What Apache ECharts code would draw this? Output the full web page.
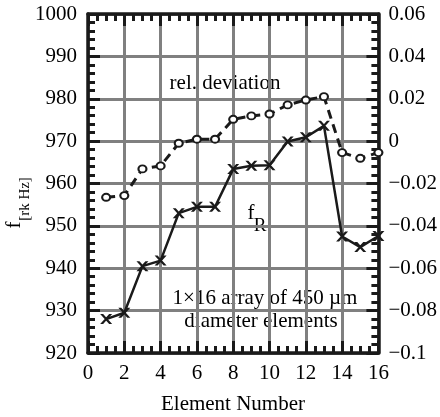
<!DOCTYPE html>
<html lang="en">
  <head>
    <meta charset="UTF-8" />
    <title>f_R and relative deviation</title>
    <script src="https://cdn.jsdelivr.net/npm/echarts/dist/echarts.min.js"></script>
  </head>
  <body style="margin: 0; background: #fff">
    <div id="container" style="width: 440px; height: 417px"></div>
    <script>
      // element number (x)
      const elements = [1, 2, 3, 4, 5, 6, 7, 8, 9, 10, 11, 12, 13, 14, 15, 16];
      // resonance frequency f_R, left axis
      const fR = [928, 929.5, 940.5, 941.8, 953, 954.5, 954.5, 963.4, 964.2, 964.3, 969.9, 970.9, 973.6, 947.5, 945, 947.6];
      // relative deviation, right axis
      const relDev = [-0.0265, -0.0257, -0.0131, -0.0117, -0.001, 0.0009, 0.0009, 0.0103, 0.0119, 0.0128, 0.0171, 0.0194, 0.021, -0.0054, -0.0081, -0.0054];

      const FONT = "Liberation Serif";
      const ink = "#1a1a1a";
      const gridGray = "#808080";

      const chart = echarts.init(document.getElementById("container"));

      const labelStyle = { fontFamily: FONT, fontSize: 21, color: "#000" };
      const axLine = { show: true, onZero: false, lineStyle: { color: ink, width: 3.5 } };
      const tick = { show: true, inside: true, length: 12, lineStyle: { color: ink, width: 3 } };
      const minor = (n) => ({ show: true, splitNumber: n, length: 7, lineStyle: { color: ink, width: 3 } });

      const crossPath = "path://M0,0L3,0L12,10L9,10Z M9,0L12,0L3,10L0,10Z";

      const option = {
        animation: false,
        backgroundColor: "#fff",
        grid: { left: 88, right: 58, top: 14, bottom: 64 },
        xAxis: [
          {
            type: "value", min: 0, max: 16, interval: 2,
            axisLine: axLine, axisTick: tick, minorTick: minor(4),
            axisLabel: Object.assign({ margin: 10 }, labelStyle),
            splitLine: { show: true, lineStyle: { color: gridGray, width: 3 } }
          },
          {
            type: "value", position: "top", min: 0, max: 16, interval: 2,
            axisLine: axLine, axisTick: tick, minorTick: minor(4),
            axisLabel: { show: false }, splitLine: { show: false }
          }
        ],
        yAxis: [
          {
            type: "value", min: 920, max: 1000, interval: 10,
            axisLine: axLine, axisTick: tick, minorTick: minor(5),
            axisLabel: Object.assign({ margin: 11, formatter: (v) => String(v) }, labelStyle),
            splitLine: { show: true, lineStyle: { color: gridGray, width: 3 } }
          },
          {
            type: "value", position: "right", min: -0.1, max: 0.06, interval: 0.02,
            axisLine: axLine, axisTick: tick, minorTick: minor(5),
            axisLabel: Object.assign({
              margin: 10,
              formatter: (v) => String(Math.round(v * 100) / 100).replace("-", "\u2212")
            }, labelStyle),
            splitLine: { show: false }
          }
        ],
        series: [
          {
            name: "f_R", type: "line", xAxisIndex: 0, yAxisIndex: 0,
            data: elements.map((e, i) => [e, fR[i]]),
            symbol: crossPath, symbolSize: [12, 10], symbolKeepAspect: false,
            itemStyle: { color: ink },
            lineStyle: { color: ink, width: 2.5 },
            z: 3
          },
          {
            name: "rel. deviation", type: "line", xAxisIndex: 0, yAxisIndex: 1,
            data: elements.map((e, i) => [e, relDev[i]]),
            symbol: "emptyCircle", symbolSize: [8, 7], symbolKeepAspect: false,
            itemStyle: { color: ink, borderColor: ink, borderWidth: 2.5 },
            lineStyle: { color: ink, width: 3, type: [9, 6] },
            z: 4
          }
        ],
        graphic: [
          { type: "text", x: 225, y: 83, style: { text: "rel. deviation", font: "21px '" + FONT + "'", fill: "#000", align: "center", verticalAlign: "middle" } },
          { type: "text", x: 251, y: 213, style: { text: "f", font: "21px '" + FONT + "'", fill: "#000", align: "center", verticalAlign: "middle" } },
          { type: "text", x: 260, y: 226, style: { text: "R", font: "19px '" + FONT + "'", fill: "#000", align: "center", verticalAlign: "middle" } },
          { type: "text", x: 265, y: 298, style: { text: "1\u00d716 array of 450 \u00b5m", font: "21px '" + FONT + "'", fill: "#000", align: "center", verticalAlign: "middle" } },
          { type: "text", x: 261, y: 321, style: { text: "diameter elements", font: "21px '" + FONT + "'", fill: "#000", align: "center", verticalAlign: "middle" } },
          { type: "text", x: 233, y: 404, style: { text: "Element Number", font: "21px '" + FONT + "'", fill: "#000", align: "center", verticalAlign: "middle" } },
          // y axis name f_[rk Hz], rotated
          { type: "text", x: 14, y: 225, rotation: Math.PI / 2, style: { text: "f", font: "21px '" + FONT + "'", fill: "#000", align: "center", verticalAlign: "middle" } },
          { type: "text", x: 25, y: 199, rotation: Math.PI / 2, style: { text: "[rk Hz]", font: "15px '" + FONT + "'", fill: "#000", align: "center", verticalAlign: "middle" } }
        ]
      };

      chart.setOption(option);
    </script>
  </body>
</html>
